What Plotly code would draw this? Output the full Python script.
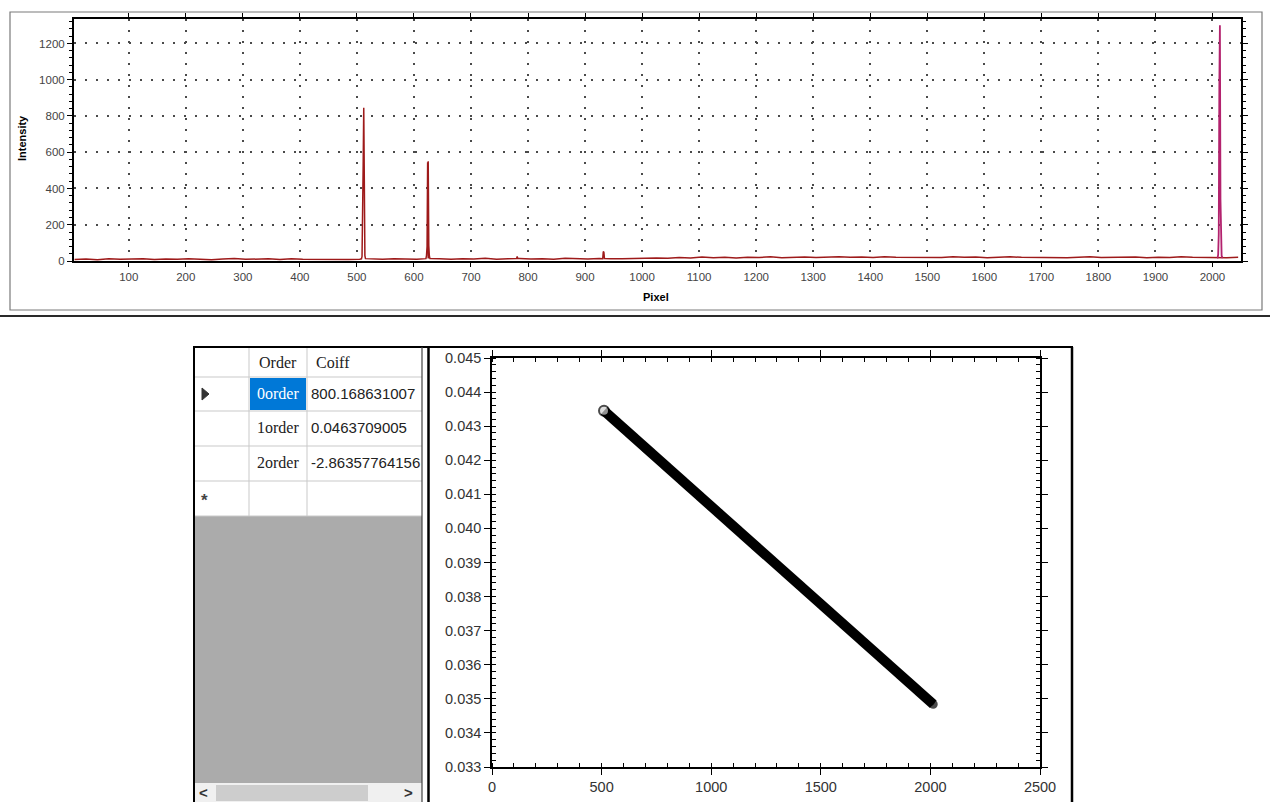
import plotly.graph_objects as go

W, H = 1270, 802

# ---------------- data: spectrum (top chart) ----------------
base_start, base_step = 5, 20
base_intensity = [8, 11, 7, 12, 9, 10, 13, 8, 11, 9, 12, 10, 7, 11, 14, 9, 10, 12, 8, 13, 10, 9, 12, 11, 8,
                  10, 12, 9, 13, 11, 10, 14, 12, 9, 13, 11, 15, 10, 12, 14, 11, 13, 10, 15, 12, 11, 14, 12, 13, 15,
                  14, 17, 15, 19, 16, 22, 18, 20, 17, 21, 19, 23, 18, 20, 22, 19, 21, 24, 20, 22, 19, 23, 21, 20, 22,
                  21, 19, 23, 20, 22, 18, 21, 24, 20, 19, 22, 21, 18, 20, 23, 19, 21, 20, 22, 18, 21, 19, 23, 20, 19,
                  20, 18, 21]
base_pixel = [base_start + i * base_step for i in range(len(base_intensity))]

peak_pixel = [508, 509, 510, 511, 512, 513, 514, 515,
              621, 622, 623, 624, 625, 626, 627, 628,
              780, 781, 782,
              931, 932, 933, 934]
peak_intensity = [12, 25, 180, 530, 845, 190, 30, 13,
                  13, 30, 80, 545, 550, 85, 28, 14,
                  14, 25, 14,
                  13, 52, 48, 14]

hg_pixel = [2008, 2009, 2010, 2011, 2012, 2013, 2014, 2015, 2016, 2017, 2018]
hg_intensity = [19, 19, 35, 150, 960, 1300, 340, 90, 30, 20, 20]

# ---------------- data: dispersion (bottom chart) ----------------
disp_pixel = [511, 600, 700, 800, 900, 1000, 1100, 1200, 1300, 1400, 1500,
              1600, 1700, 1800, 1900, 2000, 2013]
disp_value = [0.04345, 0.04294, 0.04236, 0.04179, 0.04122, 0.04064, 0.04007, 0.03950,
              0.03893, 0.03835, 0.03778, 0.03721, 0.03664, 0.03606, 0.03549, 0.03492, 0.03484]

# ---------------- data: coefficient table ----------------
table_header = ["Order", "Coiff"]
table_order = ["0order", "1order", "2order"]
table_coeff = ["800.168631007", "0.0463709005", "-2.86357764156"]

# merge spectrum
pts = sorted(list(zip(base_pixel, base_intensity)) + list(zip(peak_pixel, peak_intensity)))
spec_x = [p[0] for p in pts if p[0] < 2008 or p[0] > 2018]
spec_y = [p[1] for p in pts if p[0] < 2008 or p[0] > 2018]


def X(px):
    return px / W


def Y(py):
    return 1 - py / H


fig = go.Figure()

fig.add_trace(go.Scatter(x=spec_x, y=spec_y, mode="lines",
                         line=dict(color="#9E1A1A", width=1.5),
                         xaxis="x", yaxis="y", showlegend=False, hoverinfo="skip"))
fig.add_trace(go.Scatter(x=hg_pixel, y=hg_intensity, mode="lines",
                         line=dict(color="#B3226E", width=1.8),
                         xaxis="x", yaxis="y", showlegend=False, hoverinfo="skip"))

mcolors = ["#d0d0d0"] + ["black"] * (len(disp_pixel) - 1)
msizes = [10] + [7] * (len(disp_pixel) - 1)
fig.add_trace(go.Scatter(x=disp_pixel, y=disp_value, mode="lines+markers",
                         line=dict(color="black", width=10),
                         marker=dict(symbol="circle", size=msizes, color=mcolors,
                                     line=dict(color="black", width=2)),
                         xaxis="x2", yaxis="y2", showlegend=False, hoverinfo="skip"))

grid_common = dict(showgrid=True, gridcolor="#4a4a4a", gridwidth=1.5, griddash="2px,9px")

fig.update_layout(
    width=W, height=H, autosize=False,
    margin=dict(l=0, r=0, t=0, b=0, autoexpand=False),
    paper_bgcolor="white", plot_bgcolor="white",
    font=dict(family="Arial, Liberation Sans, sans-serif"),
    xaxis=dict(domain=[X(74), X(1241)], anchor="y", range=[4, 2050], automargin=False,
               tickvals=list(range(100, 2001, 100)), ticks="outside", ticklen=4,
               tickcolor="black", showline=True, linecolor="black", linewidth=1.5,
               mirror="allticks", zeroline=False,
               tickfont=dict(size=11.5, color="#444"), **grid_common),
    yaxis=dict(domain=[Y(261), Y(19)], anchor="x", range=[0, 1335], automargin=False,
               tickvals=list(range(0, 1201, 200)), ticks="outside", ticklen=5,
               tickcolor="black", showline=True, linecolor="black", linewidth=2,
               mirror="allticks", zeroline=False,
               minor=dict(dtick=40, tick0=0, ticks="outside", ticklen=3, tickcolor="black", showgrid=False),
               tickfont=dict(size=11.5, color="#444"), **grid_common),
    xaxis2=dict(domain=[X(492), X(1040)], anchor="y2", range=[0, 2500], automargin=False,
                dtick=500, tick0=0, ticks="outside", ticklen=6, tickcolor="black",
                showline=True, linecolor="black", linewidth=1.5, mirror="allticks",
                showgrid=False, zeroline=False,
                minor=dict(dtick=100, tick0=0, ticks="inside", ticklen=4, tickcolor="black"),
                tickfont=dict(size=14.5, color="#333")),
    yaxis2=dict(domain=[Y(767), Y(358)], anchor="x2", range=[0.033, 0.045], automargin=False,
                dtick=0.001, tick0=0.033, tickformat=".3f", ticks="outside", ticklen=6,
                tickcolor="black", showline=True, linecolor="black", linewidth=1.5,
                mirror="allticks", showgrid=False, zeroline=False,
                minor=dict(dtick=0.0002, tick0=0.033, ticks="inside", ticklen=4, tickcolor="black"),
                tickfont=dict(size=14.5, color="#333")),
)

shapes = []
ann = []


def rect(x0, y0, x1, y1, fill=None, line=None, lw=0, layer="below"):
    shapes.append(dict(type="rect", xref="paper", yref="paper",
                       x0=X(x0), y0=Y(y0), x1=X(x1), y1=Y(y1),
                       fillcolor=fill if fill else "rgba(0,0,0,0)",
                       line=dict(color=line if line else "rgba(0,0,0,0)", width=lw),
                       layer=layer))


def hline(x0, x1, y, color, lw=1, layer="above"):
    shapes.append(dict(type="line", xref="paper", yref="paper",
                       x0=X(x0), x1=X(x1), y0=Y(y), y1=Y(y),
                       line=dict(color=color, width=lw), layer=layer))


def vline(x, y0, y1, color, lw=1, layer="above"):
    shapes.append(dict(type="line", xref="paper", yref="paper",
                       x0=X(x), x1=X(x), y0=Y(y0), y1=Y(y1),
                       line=dict(color=color, width=lw), layer=layer))


def text(px, py, s, size=12, color="black", family="Arial", xanchor="center", bold=False, angle=0):
    if bold:
        s = "<b>" + s + "</b>"
    ann.append(dict(x=X(px), y=Y(py), xref="paper", yref="paper", text=s, showarrow=False,
                    xanchor=xanchor, yanchor="middle", textangle=angle,
                    font=dict(size=size, color=color, family=family)))


# top chart frame
rect(10, 12, 1262, 310, line="#7a7a7a", lw=1.2)
hline(0, 1270, 316, "#2a2a2a", 2)
text(22, 138, "Intensity", size=11, bold=True, angle=-90)
text(656, 297, "Pixel", size=11, bold=True)

# bottom: table
rect(193, 347, 422, 516, fill="white", layer="below")
rect(193, 516, 422, 783, fill="#ABABAB", layer="below")
rect(193, 783, 422, 802, fill="#F0F0F0", layer="below")
rect(216, 785, 368, 801, fill="#CDCDCD", layer="below")
for yy in [377, 411, 446, 481, 516]:
    hline(193, 422, yy, "#C9C9C9", 1)
for xx in [249, 307]:
    vline(xx, 347, 516, "#C9C9C9", 1)
rect(250, 378, 306, 410, fill="#0078D7", layer="above")

serif = "Liberation Serif, Times New Roman, serif"
text(278, 362, table_header[0], size=16, family=serif, color="#222")
text(314, 362, table_header[1], size=16, family=serif, color="#222", xanchor="left")
row_y = [394, 428, 463]
for i, (o, c) in enumerate(zip(table_order, table_coeff)):
    text(278, row_y[i], o, size=16, family=serif, color="white" if i == 0 else "#222")
    text(309, row_y[i], c, size=15, family="Arial", color="#222", xanchor="left")

shapes.append(dict(type="path", xref="paper", yref="paper",
                   path=f"M {X(202)} {Y(388)} L {X(209)} {Y(394)} L {X(202)} {Y(400)} Z",
                   fillcolor="#333", line=dict(color="#333", width=1)))
text(204, 500, "*", size=17, color="#444", bold=True)
text(203, 792, "&lt;", size=15, color="#333", bold=True)
text(408, 792, "&gt;", size=15, color="#333", bold=True)

# separators / borders
hline(193, 1073, 347, "black", 2)
vline(194, 347, 802, "black", 2)
vline(422, 347, 802, "#444", 1.2)
vline(428.5, 347, 802, "black", 2.5)
vline(1072, 347, 802, "black", 2.5)

fig.update_layout(shapes=shapes, annotations=ann)

fig.write_html("out.html")
